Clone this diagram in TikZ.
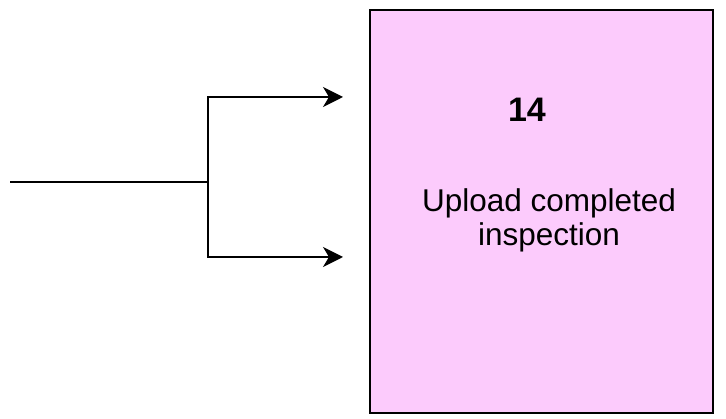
\documentclass[tikz,border=0pt]{standalone}
\usepackage{fontspec}
\setmainfont{Liberation Sans}
\usetikzlibrary{arrows.meta}
\definecolor{boxpink}{RGB}{252,203,252}
\tikzset{
  procbox/.style={draw=black, line width=2pt, fill=boxpink},
  wire/.style={draw=black, line width=1.5pt},
  arrowwire/.style={wire, -{Stealth[length=20pt,width=20pt,inset=6pt]}},
  numtext/.style={font=\fontsize{34}{38}\selectfont\bfseries},
  bodytext/.style={font=\fontsize{31.5}{34}\selectfont, align=center}
}
\begin{document}
\begin{tikzpicture}[x=1pt,y=-1pt]
\useasboundingbox (0,0) rectangle (726,419);
\filldraw[procbox] (370,10) rectangle (713,413);
\node[numtext] (num) at (527,110) {14};
\node[bodytext] (label) at (549,220) {Upload completed\\inspection};
\coordinate (in) at (10,182);
\coordinate (branch) at (208,182);
\coordinate (topend) at (343,97);
\coordinate (botend) at (343,257);
\draw[wire] (in) -- (branch);
\draw[arrowwire] (branch) |- (topend);
\draw[arrowwire] (branch) |- (botend);
\end{tikzpicture}
\end{document}
